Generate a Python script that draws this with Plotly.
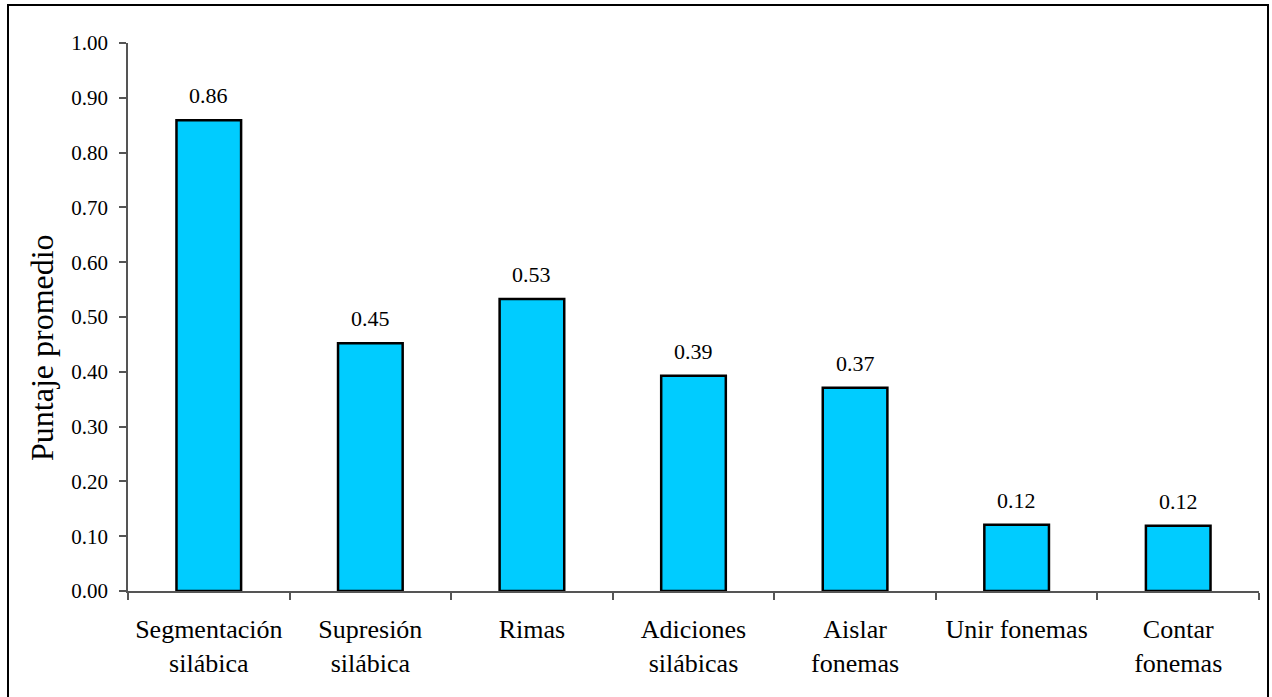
import plotly.graph_objects as go

categories = ["Segmentación<br>silábica", "Supresión<br>silábica", "Rimas",
              "Adiciones<br>silábicas", "Aislar<br>fonemas", "Unir fonemas",
              "Contar<br>fonemas"]
values = [0.859, 0.452, 0.533, 0.393, 0.371, 0.121, 0.119]
y_ticks = [0.0, 0.1, 0.2, 0.3, 0.4, 0.5, 0.6, 0.7, 0.8, 0.9, 1.0]
y_title = "Puntaje promedio"

W, H = 1272, 697
L, R, T, B = 128, 13, 43, 106
pw, ph = W - L - R, H - T - B

FONT = "Liberation Serif"
AX = "#555555"

fig = go.Figure()
fig.add_trace(go.Bar(
    x=categories, y=values,
    marker=dict(color="#00CCFF", line=dict(color="black", width=2.5)),
    width=0.40,
    hoverinfo="skip",
))

for c, v in zip(categories, values):
    fig.add_annotation(x=c, y=v, text=f"{v:.2f}", showarrow=False,
                       yanchor="bottom", yshift=10,
                       font=dict(family=FONT, size=22, color="black"))

# y-axis title as annotation (placed like the reference)
fig.add_annotation(xref="paper", yref="paper",
                   x=(42 - L) / pw, y=(T + ph - 348) / ph,
                   text=y_title, textangle=-90, showarrow=False,
                   xanchor="center", yanchor="middle",
                   font=dict(family=FONT, size=32, color="black"))

# outer chart border
fig.add_shape(type="rect", xref="paper", yref="paper",
              x0=(8 - L) / pw, x1=(1268 - L) / pw,
              y0=-(H + 10 - (T + ph)) / ph, y1=(T + ph - 5) / ph,
              line=dict(color="black", width=2), fillcolor="rgba(0,0,0,0)",
              layer="below")

fig.update_layout(
    width=W, height=H,
    margin=dict(l=L, r=R, t=T, b=B),
    paper_bgcolor="white", plot_bgcolor="white",
    showlegend=False,
    font=dict(family=FONT, color="black"),
    xaxis=dict(
        type="category",
        showline=True, linecolor=AX, linewidth=1.5,
        ticks="outside", tickson="boundaries", ticklen=7, tickcolor=AX,
        tickwidth=1.5,
        tickfont=dict(family=FONT, size=26, color="black"),
        ticklabelstandoff=14,
        showgrid=False, zeroline=False,
        range=[-0.5, 6.5],
    ),
    yaxis=dict(
        range=[0, 1.0],
        tickvals=y_ticks,
        ticktext=[f"{t:.2f}" for t in y_ticks],
        showline=True, linecolor=AX, linewidth=1.5,
        ticks="outside", ticklen=7, tickcolor=AX, tickwidth=1.5,
        tickfont=dict(family=FONT, size=21, color="black"),
        ticklabelstandoff=7,
        showgrid=False, zeroline=False,
    ),
)

fig.write_html("out.html")
